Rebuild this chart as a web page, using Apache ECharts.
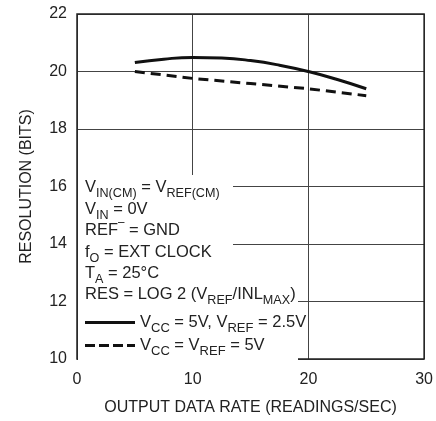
<!DOCTYPE html>
<html><head><meta charset="utf-8">
<script src="https://cdn.jsdelivr.net/npm/echarts@6/dist/echarts.min.js"></script>
<style>html,body{margin:0;padding:0;background:#fff}#c{width:436px;height:421px}</style>
</head><body><div id="c"></div>
<script>
var FONT = '"Liberation Sans", Arial, sans-serif';
var xTicks = [0, 10, 20, 30];
var yTicks = [10, 12, 14, 16, 18, 20, 22];
var rateSolid = [5, 7.5, 10, 12.5, 15, 17.5, 20, 22.5, 25];
var resSolid = [20.31, 20.43, 20.49, 20.47, 20.38, 20.22, 20.0, 19.72, 19.4];
var rateDashed = [5, 10, 15, 20, 25];
var resDashed = [20.0, 19.76, 19.58, 19.4, 19.16];
var nameSolid = 'V{s|CC} = 5V, V{s|REF} = 2.5V';
var nameDashed = 'V{s|CC} = V{s|REF} = 5V';
var notes = [
  'V{s|IN(CM)} = V{s|REF(CM)}',
  'V{s|IN} = 0V',
  'REF{p|–} = GND',
  'f{s|O} = EXT CLOCK',
  'T{s|A} = 25°C',
  'RES = LOG 2 (V{s|REF}/INL{s|MAX})'
];

var chart = echarts.init(document.getElementById('c'));
function pair(a, b) { return a.map(function (v, i) { return [v, b[i]]; }); }
chart.setOption({
  animation: false,
  textStyle: {fontFamily: FONT},
  grid: {left: 77, right: 7, top: 14, bottom: 56, show: true, borderColor: '#222', borderWidth: 1.5, z: 3},
  xAxis: {
    type: 'value', min: 0, max: 30, interval: 10,
    name: 'OUTPUT DATA RATE (READINGS/SEC)', nameLocation: 'middle', nameGap: 41,
    nameTextStyle: {fontSize: 16, color: '#222', fontFamily: FONT},
    axisLine: {show: false}, axisTick: {show: false},
    axisLabel: {fontSize: 16, color: '#222', margin: 13, fontFamily: FONT,
      formatter: function (v) { return xTicks.indexOf(v) >= 0 ? String(v) : ''; }},
    splitLine: {show: true, lineStyle: {color: '#444', width: 1}}
  },
  yAxis: {
    type: 'value', min: 10, max: 22, interval: 2,
    name: 'RESOLUTION (BITS)', nameLocation: 'middle', nameGap: 42,
    nameTextStyle: {fontSize: 16, color: '#222', fontFamily: FONT},
    axisLine: {show: false}, axisTick: {show: false},
    axisLabel: {fontSize: 16, color: '#222', margin: 10, fontFamily: FONT,
      formatter: function (v) { return yTicks.indexOf(v) >= 0 ? String(v) : ''; }},
    splitLine: {show: true, lineStyle: {color: '#444', width: 1}}
  },
  legend: {
    orient: 'vertical', left: 85, top: 312, padding: 0, itemWidth: 50, itemHeight: 3, itemGap: 0, z: 20,
    data: [
      {name: nameSolid, icon: 'path://M0,0H50V3H0Z'},
      {name: nameDashed, icon: 'path://M0,0H10V3H0Z M14,0H24V3H14Z M28,0H38V3H28Z M42,0H50V3H42Z'}
    ],
    itemStyle: {color: '#111'},
    textStyle: {fontSize: 16.5, color: '#222', fontFamily: FONT, lineHeight: 21,
      rich: {s: {fontSize: 13, fontFamily: FONT, color: '#222', verticalAlign: 'bottom', padding: [0, 0, -2, 0]}}}
  },
  graphic: [
    {type: 'rect', z: 10, shape: {x: 78, y: 175, width: 155, height: 188}, style: {fill: '#fff'}},
    {type: 'rect', z: 10, shape: {x: 78, y: 296, width: 220, height: 67}, style: {fill: '#fff'}},
    {type: 'text', z: 11, left: 85, top: 177, scaleX: 0.97, style: {
      text: notes.join('\n'),
      font: '17px ' + FONT, fill: '#222', lineHeight: 21.4,
      rich: {
        s: {fontSize: 13, fontFamily: FONT, fill: '#222', verticalAlign: 'bottom', padding: [0, 0, -2, 0]},
        p: {fontSize: 12, fontFamily: FONT, fill: '#222', verticalAlign: 'top', padding: [-3, 0, 0, 0]}
      }
    }}
  ],
  series: [
    {name: nameSolid, type: 'line', smooth: true, symbol: 'none', z: 5,
      lineStyle: {color: '#111', width: 3, type: 'solid'}, itemStyle: {color: '#111'},
      data: pair(rateSolid, resSolid)},
    {name: nameDashed, type: 'line', symbol: 'none', z: 5,
      lineStyle: {color: '#111', width: 3, type: [10, 6]}, itemStyle: {color: '#111'},
      data: pair(rateDashed, resDashed)}
  ]
});
</script></body></html>
